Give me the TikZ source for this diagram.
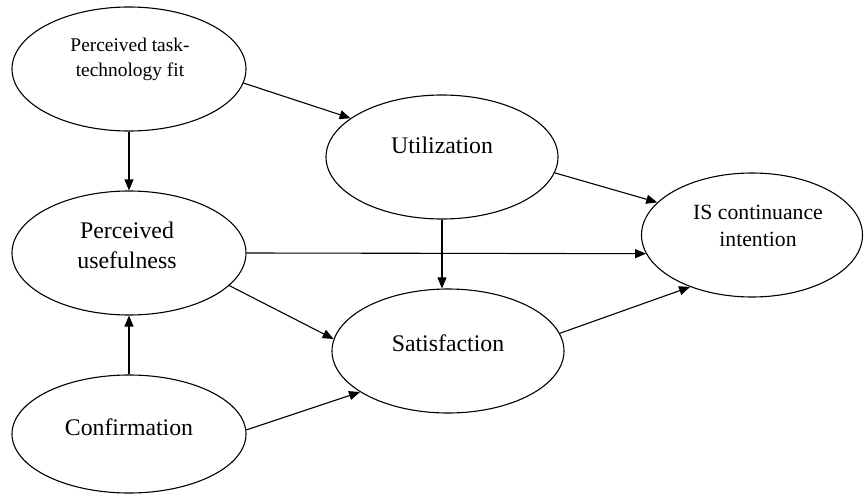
\documentclass[tikz,border=0pt]{standalone}
\usepackage{fontspec}
\setmainfont{Liberation Serif}
\usetikzlibrary{shapes.geometric,arrows.meta}
\begin{document}
\begin{tikzpicture}[x=1pt,y=-1pt,
  oval/.style={draw,ellipse,line width=1.1pt,inner sep=0pt,minimum width=#1},
  lbl/.style={align=center,inner sep=0pt},
  arr/.style={line width=1.1pt,-{Triangle[length=11pt,width=9pt]}},
  big/.style={font=\fontsize{23.8}{30}\selectfont}]
\useasboundingbox (0,0) rectangle (864,495);
% ellipses
\node[oval=234,minimum height=124] (pttf) at (129,69) {};
\node[oval=232,minimum height=124] (util) at (442,157) {};
\node[oval=221,minimum height=124] (is) at (752,235) {};
\node[oval=234,minimum height=124] (pu) at (129,253) {};
\node[oval=232,minimum height=124] (sat) at (448,351) {};
\node[oval=234,minimum height=118] (conf) at (129,434) {};
% labels
\node[lbl,font=\fontsize{19.4}{25}\selectfont] (tpttf) at (130,59) {Perceived task-\\technology fit};
\node[lbl,big] (tutil) at (442,145) {Utilization};
\node[lbl,font=\fontsize{21.7}{27}\selectfont] (tis) at (758,226) {IS continuance\\intention};
\node[lbl,big] (tpu) at (127,245) {Perceived\\usefulness};
\node[lbl,big] (tsat) at (448,343) {Satisfaction};
\node[lbl,big] (tconf) at (129,427) {Confirmation};
% connectors
\draw[arr] (pttf.south) -- (pu.north);
\draw[arr] (pttf.-7) -- (util.157);
\draw[arr] (util.-8) -- (is.161);
\draw[arr] (util.south) -- (util.south |- sat.north);
\draw[arr] (pu.east) -- (is.190.5);
\draw[arr] (pu.-18.6) -- (sat.174.6);
\draw[arr] (conf.north) -- (pu.south);
\draw[arr] (conf.2) -- (sat.205.5);
\draw[arr] (sat.9.5) -- (is.220.5);
\end{tikzpicture}
\end{document}
